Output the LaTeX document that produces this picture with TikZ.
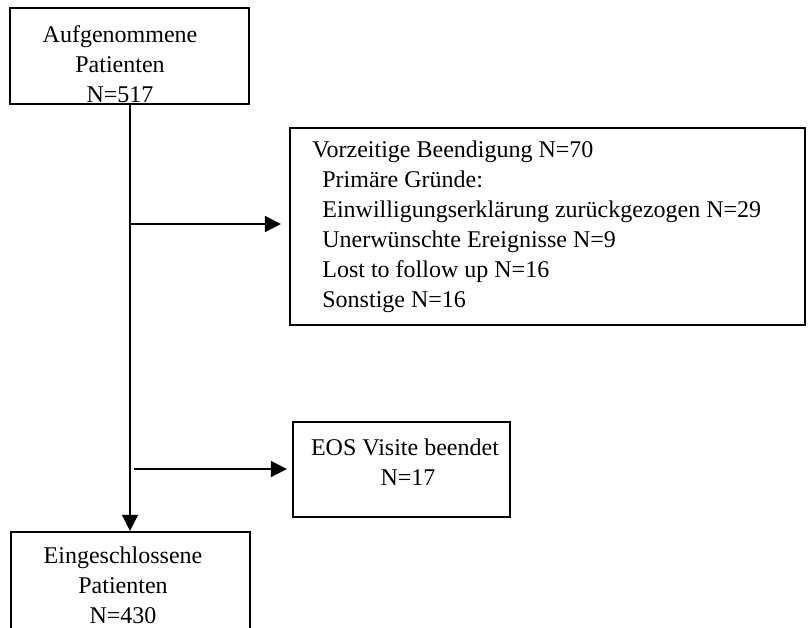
\documentclass[tikz,border=0pt]{standalone}
\usepackage{fontspec}
\setmainfont{Liberation Serif}
\usetikzlibrary{arrows.meta}
\begin{document}
\begin{tikzpicture}[x=0.5pt,y=-0.5pt,
  box/.style={draw, line width=1.1pt, rectangle, inner sep=0pt},
  txt/.style={inner sep=0pt, font=\fontsize{12}{15}\selectfont},
  flow/.style={line width=0.8pt},
  arr/.style={flow, -{Triangle[length=8pt,width=8pt]}}]
\useasboundingbox (0,0) rectangle (812,627);
\clip (0,0) rectangle (812,627);

% boxes
\node[box, minimum width=119.5pt, minimum height=48pt] (top) at (129.5,56) {};
\node[box, minimum width=257.5pt, minimum height=98.5pt] (rs) at (547.5,226.5) {};
\node[box, minimum width=108.5pt, minimum height=47.5pt] (eos) at (401.5,469.5) {};
\node[box, minimum width=119.5pt, minimum height=49pt] (bot) at (130.5,581) {};

% texts (anchored at the baseline of the last line)
\node[txt, align=center, anchor=base] (toptxt) at (120,102)
  {Aufgenommene\\Patienten\\N=517};
\node[txt, align=left, anchor=base west] (rstxt) at (312,307)
  {Vorzeitige Beendigung N=70\\
   \hspace*{5pt}Primäre Gründe:\\
   \hspace*{5pt}Einwilligungserklärung zurückgezogen N=29\\
   \hspace*{5pt}Unerwünschte Ereignisse N=9\\
   \hspace*{5pt}Lost to follow up N=16\\
   \hspace*{5pt}Sonstige N=16};
\node[txt, align=center, anchor=base] (eostxt) at (405,485)
  {EOS Visite beendet\\\hspace*{3pt}N=17};
\node[txt, align=center, anchor=base] (bottxt) at (123,623)
  {Eingeschlossene\\Patienten\\N=430};

% connectors
\coordinate (j1) at (130,224);
\coordinate (j2) at (134,469);
\draw[arr] (top.south -| j1) -- (bot.north -| j1);
\draw[arr, shorten >=4pt] (j1) -- (j1 -| rs.west);
\draw[arr, shorten >=2.5pt] (j2) -- (j2 -| eos.west);
\end{tikzpicture}
\end{document}
